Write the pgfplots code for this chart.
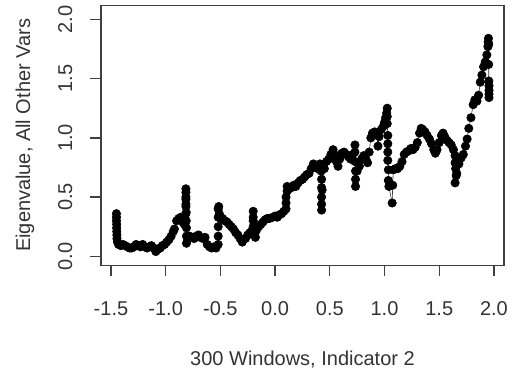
\documentclass[border=0pt]{standalone}
\usepackage{pgfplots}
\pgfplotsset{compat=1.18}
\usepackage{fontspec}
\setmainfont{Liberation Sans}
\begin{document}
\fontsize{20}{24}\selectfont
\begin{tikzpicture}
\path[use as bounding box] (-101pt,-115.7pt) rectangle (413pt,265.3pt);
\begin{axis}[
  at={(0pt,0pt)}, anchor=south west,
  scale only axis, width=403pt, height=260pt,
  xmin=-1.591, xmax=2.092, ymin=-0.076, ymax=2.119,
  axis line style={black!75, line width=1.5pt},
  xtick={-1.5,-1,-0.5,0,0.5,1,1.5,2},
  ytick={0,0.5,1,1.5,2},
  xticklabels={-1.5,-1.0,-0.5,0.0,0.5,1.0,1.5,2.0},
  yticklabels={0.0,0.5,1.0,1.5,2.0},
  xtick pos=bottom, ytick pos=left, tick align=outside,
  major tick length=11pt,
  tick style={black!75, line width=1.3pt},
  /pgf/number format/assume math mode=true,
  ticklabel style={font=\fontsize{20}{24}\selectfont, text=black!80},
  xticklabel style={anchor=north, yshift=-18pt, text height=14.5pt, text depth=0pt},
  yticklabel style={rotate=90, anchor=south, text height=14.5pt, text depth=0pt},
  yticklabel shift=11pt,
  xlabel={300 Windows, Indicator 2},
  ylabel={Eigenvalue, All Other Vars},
  label style={font=\fontsize{20}{24}\selectfont, text=black!80},
  xlabel style={at={(rel axis cs:0.5,0)}, anchor=center, yshift=-94pt},
  ylabel style={at={(rel axis cs:0,0.5)}, anchor=center, yshift=76pt},
  clip=false,
]
\addplot[black!80, line width=0.6pt, mark=*, mark size=4.2pt, mark options={black, draw=black, fill=black}] coordinates {
(-1.450,0.36)(-1.450,0.33)(-1.450,0.30)(-1.448,0.27)(-1.448,0.24)(-1.447,0.21)(-1.446,0.18)(-1.445,0.15)(-1.44,0.12)(-1.43,0.10)
(-1.41,0.09)(-1.39,0.10)(-1.37,0.09)(-1.35,0.08)(-1.33,0.07)(-1.31,0.07)(-1.29,0.08)(-1.27,0.10)(-1.25,0.09)(-1.23,0.08)
(-1.21,0.10)(-1.19,0.08)(-1.17,0.07)(-1.15,0.08)(-1.13,0.09)(-1.11,0.07)(-1.09,0.04)(-1.07,0.06)(-1.05,0.07)(-1.03,0.09)
(-1.01,0.10)(-0.99,0.12)(-0.97,0.14)(-0.95,0.17)(-0.93,0.21)(-0.92,0.23)(-0.90,0.30)(-0.88,0.32)(-0.86,0.33)(-0.845,0.29)
(-0.83,0.27)(-0.82,0.35)(-0.815,0.42)(-0.815,0.48)(-0.815,0.54)(-0.815,0.57)(-0.815,0.50)(-0.815,0.44)(-0.812,0.37)(-0.812,0.30)
(-0.81,0.24)(-0.81,0.17)(-0.81,0.11)(-0.80,0.15)(-0.78,0.17)(-0.76,0.16)(-0.74,0.15)(-0.72,0.17)(-0.70,0.18)(-0.68,0.16)
(-0.66,0.15)(-0.64,0.16)(-0.62,0.10)(-0.60,0.08)(-0.58,0.07)(-0.56,0.08)(-0.54,0.07)(-0.52,0.10)(-0.52,0.17)(-0.52,0.25)
(-0.52,0.33)(-0.52,0.40)(-0.515,0.42)(-0.51,0.36)(-0.50,0.32)(-0.48,0.32)(-0.46,0.30)(-0.44,0.29)(-0.42,0.27)(-0.40,0.25)
(-0.38,0.23)(-0.36,0.20)(-0.34,0.18)(-0.32,0.15)(-0.30,0.12)(-0.29,0.14)(-0.27,0.15)(-0.25,0.18)(-0.23,0.20)(-0.21,0.22)
(-0.20,0.30)(-0.20,0.38)(-0.20,0.33)(-0.20,0.25)(-0.19,0.18)(-0.18,0.16)(-0.17,0.22)(-0.15,0.25)(-0.13,0.27)(-0.11,0.29)
(-0.09,0.31)(-0.07,0.32)(-0.05,0.32)(-0.02,0.33)(0.00,0.34)(0.02,0.33)(0.04,0.35)(0.06,0.36)(0.08,0.38)(0.10,0.40)
(0.10,0.45)(0.10,0.50)(0.11,0.55)(0.11,0.59)(0.13,0.57)(0.15,0.58)(0.17,0.60)(0.19,0.59)(0.21,0.62)(0.23,0.64)
(0.25,0.65)(0.27,0.67)(0.29,0.69)(0.31,0.70)(0.33,0.74)(0.35,0.78)(0.37,0.76)(0.39,0.74)(0.41,0.78)(0.42,0.72)
(0.425,0.65)(0.425,0.58)(0.425,0.50)(0.425,0.44)(0.425,0.39)(0.43,0.56)(0.45,0.74)(0.47,0.80)(0.49,0.82)(0.51,0.86)
(0.53,0.90)(0.54,0.86)(0.56,0.80)(0.575,0.76)(0.59,0.82)(0.61,0.87)(0.63,0.88)(0.65,0.86)(0.67,0.84)(0.69,0.82)
(0.71,0.86)(0.73,0.94)(0.73,0.88)(0.73,0.80)(0.735,0.72)(0.735,0.65)(0.735,0.59)(0.75,0.72)(0.77,0.76)(0.79,0.82)
(0.81,0.85)(0.83,0.82)(0.845,0.79)(0.86,0.88)(0.875,1.00)(0.89,1.04)(0.91,1.05)(0.93,1.03)(0.94,0.93)(0.95,1.01)
(0.97,1.07)(0.99,1.10)(1.00,1.13)(1.01,1.17)(1.02,1.21)(1.025,1.25)(1.025,1.18)(1.025,1.12)(1.03,1.02)(1.03,0.95)
(1.03,0.88)(1.03,0.81)(1.035,0.73)(1.035,0.64)(1.04,0.59)(1.07,0.45)(1.075,0.60)(1.08,0.73)(1.10,0.74)(1.12,0.74)
(1.14,0.76)(1.16,0.80)(1.18,0.86)(1.20,0.88)(1.22,0.89)(1.24,0.91)(1.26,0.90)(1.28,0.92)(1.30,0.96)(1.32,1.04)
(1.335,1.08)(1.35,1.07)(1.37,1.05)(1.39,1.02)(1.41,0.99)(1.43,0.95)(1.45,0.90)(1.465,0.87)(1.48,0.90)(1.50,0.96)
(1.52,1.02)(1.535,1.04)(1.55,1.01)(1.57,0.98)(1.59,0.96)(1.61,0.94)(1.63,0.90)(1.645,0.85)(1.645,0.79)(1.65,0.74)
(1.655,0.68)(1.645,0.62)(1.66,0.70)(1.68,0.78)(1.70,0.83)(1.72,0.86)(1.74,0.93)(1.755,0.99)(1.77,1.08)(1.79,1.17)
(1.81,1.28)(1.825,1.32)(1.845,1.31)(1.86,1.36)(1.875,1.47)(1.89,1.53)(1.905,1.60)(1.92,1.64)(1.935,1.70)(1.945,1.77)
(1.947,1.81)(1.95,1.84)(1.952,1.79)(1.952,1.62)(1.953,1.48)(1.955,1.44)(1.955,1.40)(1.955,1.37)(1.955,1.34)
};
\end{axis}
\end{tikzpicture}
\end{document}
